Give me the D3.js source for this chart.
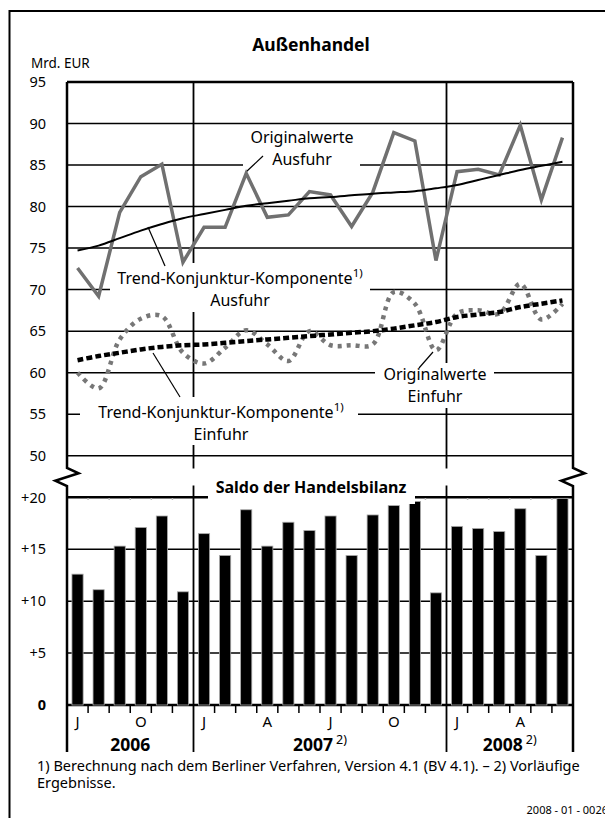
<!DOCTYPE html>
<html>
<head>
<meta charset="utf-8">
<script src="https://cdnjs.cloudflare.com/ajax/libs/d3/7.8.5/d3.min.js"></script>
<style>
  body { margin: 0; background: #fff; }
  svg { font-family: "Noto Sans", "Liberation Sans", sans-serif; }
</style>
</head>
<body>
<div id="w"></div>
<script>
// months Jul 2006 .. Jun 2008
var months = ["2006-07","2006-08","2006-09","2006-10","2006-11","2006-12",
  "2007-01","2007-02","2007-03","2007-04","2007-05","2007-06",
  "2007-07","2007-08","2007-09","2007-10","2007-11","2007-12",
  "2008-01","2008-02","2008-03","2008-04","2008-05","2008-06"]

var ausfuhr = [72.6,69.2,79.3,83.6,85.1,73.3,77.5,77.5,84.0,78.7,79.0,81.8,
  81.4,77.6,81.7,88.9,87.9,73.5,84.2,84.5,83.8,89.8,80.8,88.3]
var ausfuhrTrend = [74.7,75.3,76.2,77.1,77.9,78.6,79.1,79.6,80.1,80.4,80.7,81.0,
  81.15,81.35,81.55,81.7,81.85,82.2,82.6,83.2,83.8,84.4,84.9,85.4]
var einfuhr = [60.0,58.1,64.0,66.5,66.8,62.4,61.1,63.0,65.1,63.4,61.4,65.0,
  63.3,63.3,63.4,69.7,68.3,62.7,67.1,67.5,67.1,70.7,66.4,68.3]
var einfuhrTrend = [61.5,62.0,62.4,62.8,63.1,63.3,63.4,63.6,63.8,64.0,64.2,64.4,
  64.6,64.8,65.0,65.3,65.7,66.1,66.7,67.0,67.3,67.9,68.3,68.7]
var saldo = [12.6,11.1,15.3,17.1,18.2,10.9,16.5,14.4,18.8,15.3,17.6,16.8,
  18.2,14.4,18.3,19.2,19.6,10.8,17.2,17.0,16.7,18.9,14.4,19.9]

var upperTicks = [95,90,85,80,75,70,65,60,55,50]
var lowerTicks = [20,15,10,5,0]
var monthLabels = [[0,"J"],[3,"O"],[6,"J"],[9,"A"],[12,"J"],[15,"O"],[18,"J"],[21,"A"]]
var years = [["2006",0,5,""],["2007",6,17,"2)"],["2008",18,23,"2)"]]

var W = 605, H = 818
var L = 67, R = 573
var svg = d3.select("#w").append("svg").attr("width", W).attr("height", H)

// outer frame
svg.append("rect").attr("x",9.5).attr("y",11).attr("width",640).attr("height",900)
  .attr("fill","none").attr("stroke","#000").attr("stroke-width",2)

var x = d3.scaleBand().domain(months).range([L,R]).paddingInner(0.47).paddingOuter(0.235)
var step = x.step()
var cx = function(i){ return x(months[i]) + x.bandwidth()/2 }
var edge = function(i){ return L + i*step }

var yU = d3.scaleLinear().domain([50,95]).range([455.7,82])
var yL = d3.scaleLinear().domain([0,20]).range([705,497.3])

svg.append("text").attr("x",311).attr("y",51).attr("text-anchor","middle")
  .attr("font-size",17.5).attr("font-weight","bold").text("Außenhandel")
svg.append("text").attr("x",31).attr("y",68).attr("font-size",13.5).text("Mrd. EUR")

// upper grid
svg.append("g").selectAll("line").data(upperTicks).enter().append("line")
  .attr("x1",L).attr("x2",R).attr("y1",d=>yU(d)).attr("y2",d=>yU(d))
  .attr("stroke","#000").attr("stroke-width",d=>d==95?2.5:1.5)
svg.append("g").selectAll("text").data(upperTicks).enter().append("text")
  .attr("x",46).attr("y",d=>yU(d)).attr("dy","0.36em").attr("text-anchor","end")
  .attr("font-size",14.5).text(d=>d)

// lower grid
svg.append("g").selectAll("line").data(lowerTicks).enter().append("line")
  .attr("x1",L).attr("x2",R).attr("y1",d=>yL(d)).attr("y2",d=>yL(d))
  .attr("stroke","#000").attr("stroke-width",d=>(d==0||d==20)?2.5:1.5)
svg.append("g").selectAll("text").data(lowerTicks).enter().append("text")
  .attr("x",46).attr("y",d=>yL(d)).attr("dy","0.36em").attr("text-anchor","end")
  .attr("font-size",14.5).attr("font-weight",d=>d==0?"bold":"normal")
  .text(d=>d==0?"0":"+"+d)

// year separators
var seps = [edge(6), edge(18)]
svg.append("g").selectAll("line").data(seps).enter().append("line")
  .attr("x1",d=>d).attr("x2",d=>d).attr("y1",82).attr("y2",752)
  .attr("stroke","#000").attr("stroke-width",1.8)

// small ticks on +20 line and below 0
var inner = d3.range(1,24).filter(i=>i!=6 && i!=18)
svg.append("g").selectAll("line").data(inner).enter().append("line")
  .attr("x1",d=>edge(d)).attr("x2",d=>edge(d)).attr("y1",705).attr("y2",713)
  .attr("stroke","#000").attr("stroke-width",1.5)
svg.append("g").selectAll("line").data(inner).enter().append("line")
  .attr("x1",d=>edge(d)).attr("x2",d=>edge(d)).attr("y1",498).attr("y2",500)
  .attr("stroke","#bbb").attr("stroke-width",1.5)

// bars
svg.append("g").selectAll("rect").data(saldo).enter().append("rect")
  .attr("x",(d,i)=>x(months[i])).attr("width",x.bandwidth())
  .attr("y",d=>yL(d)).attr("height",d=>yL(0)-yL(d))
  .attr("fill","#000").attr("stroke","#aaa").attr("stroke-width",0.8)

// break band
svg.append("rect").attr("x",L-2).attr("y",468.5).attr("width",R-L+4).attr("height",17)
  .attr("fill","#fff")

// white label boxes
var boxes = [[243,126,117,46],[110,263,260,49],[375,363,119,45],[80,397,278,48],[208,470,207,34]]
svg.append("g").selectAll("rect").data(boxes).enter().append("rect")
  .attr("x",d=>d[0]).attr("y",d=>d[1]).attr("width",d=>d[2]).attr("height",d=>d[3])
  .attr("fill","#fff")

// plot borders with zigzag
function border(px, dir) {
  var p = d3.path()
  p.moveTo(px,82); p.lineTo(px,468)
  p.lineTo(px+11.6*dir,473.3); p.lineTo(px-11.7*dir,480.7); p.lineTo(px,486)
  p.lineTo(px,752)
  return p.toString()
}
svg.append("path").attr("d",border(L,1)).attr("fill","none").attr("stroke","#000").attr("stroke-width",2.5)
svg.append("path").attr("d",border(R,1)).attr("fill","none").attr("stroke","#000").attr("stroke-width",2.5)

// leader lines
var leaders = [[246,172,263,156],[148,227,165,266],[433,352,419,368],[153,353,180,397]]
svg.append("g").selectAll("line").data(leaders).enter().append("line")
  .attr("x1",d=>d[0]).attr("y1",d=>d[1]).attr("x2",d=>d[2]).attr("y2",d=>d[3])
  .attr("stroke","#000").attr("stroke-width",1.2)

// lines
var lineLin = d3.line().x((d,i)=>cx(i)).y(d=>yU(d))
var lineSmooth = d3.line().x((d,i)=>cx(i)).y(d=>yU(d)).curve(d3.curveCatmullRom)

svg.append("path").attr("d",lineSmooth(einfuhr)).attr("fill","none")
  .attr("stroke","#777").attr("stroke-width",4.5).attr("stroke-dasharray","4,5")
svg.append("path").attr("d",lineSmooth(einfuhrTrend)).attr("fill","none")
  .attr("stroke","#000").attr("stroke-width",4.5).attr("stroke-dasharray","6,3")
svg.append("path").attr("d",lineLin(ausfuhr)).attr("fill","none")
  .attr("stroke","#707070").attr("stroke-width",3.5).attr("stroke-linejoin","miter")
svg.append("path").attr("d",lineSmooth(ausfuhrTrend)).attr("fill","none")
  .attr("stroke","#000").attr("stroke-width",2)

// labels
function label(cxp, y1, first, second, sup) {
  var t = svg.append("text").attr("x",cxp).attr("y",y1).attr("text-anchor","middle").attr("font-size",16)
  t.append("tspan").text(first)
  if (sup) t.append("tspan").attr("dy",-7).attr("font-size",11.5).text(sup)
  svg.append("text").attr("x",cxp).attr("y",y1+22).attr("text-anchor","middle").attr("font-size",16).text(second)
}
label(302,143,"Originalwerte","Ausfuhr")
label(240,284,"Trend-Konjunktur-Komponente","Ausfuhr","1)")
label(435,380,"Originalwerte","Einfuhr")
label(221,418,"Trend-Konjunktur-Komponente","Einfuhr","1)")

svg.append("text").attr("x",311).attr("y",493).attr("text-anchor","middle")
  .attr("font-size",16).attr("font-weight","bold").text("Saldo der Handelsbilanz")

// month and year labels
svg.append("g").selectAll("text").data(monthLabels).enter().append("text")
  .attr("x",d=>cx(d[0])).attr("y",727).attr("text-anchor","middle").attr("font-size",15)
  .text(d=>d[1])
years.forEach(function(y){
  var c = (edge(y[1]) + edge(y[2]+1))/2
  var t = svg.append("text").attr("x",c).attr("y",751).attr("text-anchor","middle")
    .attr("font-size",17.5).attr("font-weight","bold")
  t.append("tspan").text(y[0])
  if (y[3]) t.append("tspan").attr("dx",3).attr("dy",-7).attr("font-size",12.5).attr("font-weight","normal").text(y[3])
})

// footnote
svg.append("text").attr("x",37).attr("y",771).attr("font-size",14.5)
  .text("1) Berechnung nach dem Berliner Verfahren, Version 4.1 (BV 4.1). – 2) Vorläufige")
svg.append("text").attr("x",37).attr("y",788).attr("font-size",14.5).text("Ergebnisse.")
svg.append("text").attr("x",608).attr("y",814).attr("text-anchor","end").attr("font-size",11)
  .text("2008 - 01 - 0026")
</script>
</body>
</html>
